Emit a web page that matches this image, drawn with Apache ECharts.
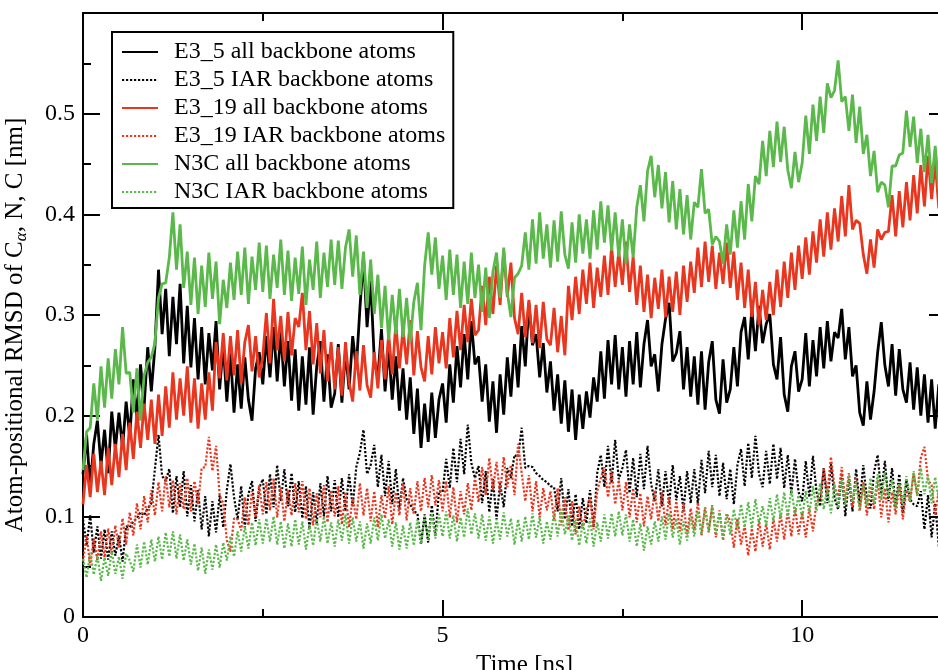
<!DOCTYPE html>
<html>
<head>
<meta charset="utf-8">
<script src="https://cdn.jsdelivr.net/npm/echarts@6/dist/echarts.min.js"></script>
<style>
  html, body { margin: 0; padding: 0; background: #fff; }
  #chart { width: 938px; height: 670px; }
</style>
</head>
<body>
<div id="chart"></div>
<script>
// sampling step of the traces (ns)
const DT = 0.05;

const seriesNames = [
  'E3_5 all backbone atoms',
  'E3_5 IAR backbone atoms',
  'E3_19 all backbone atoms',
  'E3_19 IAR backbone atoms',
  'N3C all backbone atoms',
  'N3C IAR backbone atoms'
];

// E3_5 all backbone atoms
const e35All = [
  0.142, 0.181, 0.128, 0.172, 0.195, 0.151, 0.186, 0.143, 0.204, 0.167,
  0.203, 0.168, 0.214, 0.179, 0.236, 0.198, 0.251, 0.209, 0.268, 0.224,
  0.268, 0.345, 0.281, 0.326, 0.259, 0.318, 0.271, 0.331, 0.252, 0.309,
  0.248, 0.297, 0.236, 0.288, 0.231, 0.282, 0.245, 0.294, 0.226, 0.271,
  0.214, 0.262, 0.203, 0.251, 0.207, 0.258, 0.216, 0.195, 0.247, 0.263,
  0.231, 0.279, 0.238, 0.288, 0.234, 0.283, 0.229, 0.274, 0.215, 0.266,
  0.205, 0.259, 0.211, 0.268, 0.201, 0.249, 0.274, 0.214, 0.261, 0.208,
  0.222, 0.271, 0.213, 0.264, 0.226, 0.279, 0.247, 0.306, 0.358, 0.288,
  0.334, 0.256, 0.238, 0.286, 0.224, 0.268, 0.216, 0.259, 0.205, 0.247,
  0.196, 0.238, 0.182, 0.227, 0.168, 0.212, 0.174, 0.223, 0.178, 0.216,
  0.232, 0.193, 0.251, 0.213, 0.269, 0.228, 0.281, 0.236, 0.294, 0.251,
  0.259, 0.214, 0.251, 0.194, 0.234, 0.183, 0.241, 0.201, 0.258, 0.219,
  0.271, 0.228, 0.289, 0.249, 0.312, 0.27, 0.281, 0.238, 0.272, 0.223,
  0.254, 0.205, 0.241, 0.192, 0.235, 0.184, 0.226, 0.176, 0.221, 0.187,
  0.224, 0.198, 0.238, 0.214, 0.264, 0.217, 0.275, 0.231, 0.28, 0.226,
  0.268, 0.219, 0.274, 0.231, 0.283, 0.228, 0.271, 0.295, 0.249, 0.261,
  0.224, 0.271, 0.296, 0.312, 0.254, 0.262, 0.284, 0.226, 0.268, 0.219,
  0.259, 0.211, 0.264, 0.206, 0.253, 0.274, 0.216, 0.202, 0.256, 0.213,
  0.226, 0.268, 0.229, 0.283, 0.298, 0.256, 0.306, 0.264, 0.309, 0.272,
  0.291, 0.301, 0.251, 0.236, 0.278, 0.221, 0.204, 0.249, 0.264, 0.224,
  0.236, 0.282, 0.229, 0.275, 0.239, 0.288, 0.247, 0.294, 0.254, 0.283,
  0.277, 0.306, 0.256, 0.288, 0.239, 0.25, 0.203, 0.19, 0.234, 0.196,
  0.224, 0.263, 0.293, 0.25, 0.229, 0.271, 0.22, 0.266, 0.226, 0.213,
  0.253, 0.206, 0.248, 0.2, 0.241, 0.193, 0.236, 0.187, 0.231, 0.196,
  0.214
];

// E3_5 IAR backbone atoms
const e35Iar = [
  0.097, 0.071, 0.101, 0.064, 0.09, 0.058, 0.087, 0.057, 0.085, 0.061,
  0.081, 0.055, 0.09, 0.089, 0.095, 0.098, 0.104, 0.101, 0.108, 0.113,
  0.147, 0.181, 0.14, 0.135, 0.147, 0.103, 0.14, 0.109, 0.145, 0.1,
  0.131, 0.095, 0.126, 0.087, 0.12, 0.08, 0.115, 0.084, 0.121, 0.089,
  0.126, 0.152, 0.119, 0.097, 0.13, 0.089, 0.122, 0.135, 0.095, 0.128,
  0.137, 0.102, 0.142, 0.109, 0.151, 0.115, 0.147, 0.11, 0.143, 0.104,
  0.135, 0.098, 0.13, 0.087, 0.124, 0.093, 0.133, 0.1, 0.14, 0.105,
  0.136, 0.099, 0.138, 0.105, 0.142, 0.11, 0.149, 0.163, 0.186, 0.142,
  0.151, 0.171, 0.129, 0.161, 0.12, 0.155, 0.112, 0.147, 0.107, 0.138,
  0.117, 0.112, 0.105, 0.103, 0.072, 0.102, 0.074, 0.111, 0.08, 0.125,
  0.124, 0.157, 0.128, 0.168, 0.134, 0.177, 0.142, 0.191, 0.153, 0.138,
  0.15, 0.113, 0.145, 0.104, 0.137, 0.097, 0.133, 0.109, 0.148, 0.138,
  0.161, 0.159, 0.188, 0.148, 0.15, 0.149, 0.143, 0.14, 0.136, 0.134,
  0.13, 0.129, 0.105, 0.138, 0.097, 0.127, 0.09, 0.122, 0.087, 0.118,
  0.093, 0.126, 0.089, 0.143, 0.161, 0.129, 0.17, 0.133, 0.176, 0.137,
  0.148, 0.166, 0.123, 0.158, 0.119, 0.162, 0.127, 0.17, 0.132, 0.115,
  0.147, 0.11, 0.145, 0.112, 0.151, 0.116, 0.14, 0.105, 0.145, 0.113,
  0.147, 0.112, 0.156, 0.123, 0.165, 0.129, 0.161, 0.12, 0.153, 0.117,
  0.147, 0.112, 0.151, 0.167, 0.13, 0.173, 0.138, 0.18, 0.142, 0.129,
  0.165, 0.132, 0.172, 0.137, 0.168, 0.128, 0.161, 0.122, 0.157, 0.124,
  0.115, 0.155, 0.119, 0.16, 0.124, 0.11, 0.148, 0.113, 0.152, 0.118,
  0.107, 0.143, 0.1, 0.137, 0.105, 0.147, 0.112, 0.151, 0.117, 0.108,
  0.144, 0.161, 0.122, 0.155, 0.115, 0.148, 0.109, 0.142, 0.103, 0.136,
  0.117, 0.112, 0.11, 0.125, 0.087, 0.121, 0.079, 0.113, 0.07, 0.101,
  0.062
];

// E3_19 all backbone atoms
const e319All = [
  0.112, 0.151, 0.119, 0.162, 0.124, 0.155, 0.121, 0.168, 0.131, 0.172,
  0.139, 0.182, 0.146, 0.193, 0.157, 0.204, 0.168, 0.212, 0.176, 0.216,
  0.172, 0.221, 0.18, 0.229, 0.188, 0.243, 0.196, 0.237, 0.2, 0.249,
  0.193, 0.237, 0.187, 0.232, 0.196, 0.243, 0.205, 0.273, 0.237, 0.282,
  0.235, 0.279, 0.24, 0.285, 0.232, 0.273, 0.29, 0.244, 0.279, 0.238,
  0.259, 0.302, 0.252, 0.316, 0.265, 0.299, 0.254, 0.303, 0.26, 0.297,
  0.288, 0.322, 0.265, 0.304, 0.251, 0.292, 0.242, 0.285, 0.234, 0.273,
  0.226, 0.268, 0.22, 0.273, 0.233, 0.214, 0.264, 0.225, 0.27, 0.23,
  0.218, 0.263, 0.227, 0.275, 0.236, 0.281, 0.241, 0.292, 0.247, 0.287,
  0.251, 0.295, 0.24, 0.284, 0.248, 0.234, 0.279, 0.241, 0.288, 0.252,
  0.283, 0.247, 0.297, 0.258, 0.304, 0.265, 0.31, 0.273, 0.316, 0.28,
  0.285, 0.329, 0.29, 0.338, 0.301, 0.349, 0.31, 0.363, 0.318, 0.352,
  0.297, 0.281, 0.322, 0.278, 0.315, 0.272, 0.31, 0.267, 0.313, 0.276,
  0.27, 0.307, 0.263, 0.299, 0.26, 0.329, 0.295, 0.338, 0.301, 0.345,
  0.311, 0.352, 0.307, 0.347, 0.318, 0.359, 0.32, 0.368, 0.328, 0.363,
  0.33, 0.373, 0.323, 0.358, 0.31, 0.349, 0.303, 0.34, 0.297, 0.337,
  0.306, 0.345, 0.298, 0.338, 0.303, 0.343, 0.3, 0.349, 0.313, 0.353,
  0.322, 0.367, 0.328, 0.373, 0.333, 0.369, 0.326, 0.362, 0.331, 0.372,
  0.327, 0.363, 0.315, 0.352, 0.307, 0.345, 0.298, 0.333, 0.29, 0.325,
  0.295, 0.333, 0.3, 0.345, 0.308, 0.353, 0.317, 0.362, 0.325, 0.369,
  0.336, 0.377, 0.34, 0.383, 0.352, 0.395, 0.358, 0.402, 0.365, 0.406,
  0.373, 0.418, 0.378, 0.429, 0.385, 0.394, 0.391, 0.36, 0.341, 0.375,
  0.347, 0.385, 0.375, 0.382, 0.383, 0.419, 0.378, 0.423, 0.387, 0.432,
  0.394, 0.439, 0.401, 0.449, 0.408, 0.458, 0.415, 0.452, 0.406, 0.447,
  0.428
];

// E3_19 IAR backbone atoms
const e319Iar = [
  0.055, 0.081, 0.051, 0.078, 0.056, 0.085, 0.059, 0.088, 0.062, 0.091,
  0.069, 0.098, 0.072, 0.104, 0.081, 0.113, 0.087, 0.12, 0.094, 0.126,
  0.101, 0.134, 0.105, 0.14, 0.109, 0.136, 0.102, 0.133, 0.107, 0.138,
  0.105, 0.135, 0.112, 0.148, 0.149, 0.179, 0.145, 0.17, 0.121, 0.113,
  0.076, 0.065, 0.098, 0.097, 0.086, 0.119, 0.091, 0.125, 0.099, 0.131,
  0.102, 0.134, 0.106, 0.138, 0.099, 0.129, 0.095, 0.126, 0.101, 0.133,
  0.104, 0.135, 0.097, 0.128, 0.091, 0.123, 0.099, 0.131, 0.094, 0.126,
  0.1, 0.13, 0.092, 0.124, 0.089, 0.119, 0.097, 0.133, 0.101, 0.128,
  0.095, 0.125, 0.089, 0.121, 0.098, 0.13, 0.092, 0.124, 0.101, 0.133,
  0.096, 0.128, 0.102, 0.135, 0.105, 0.138, 0.109, 0.141, 0.111, 0.136,
  0.105, 0.135, 0.099, 0.129, 0.094, 0.125, 0.102, 0.133, 0.106, 0.139,
  0.114, 0.149, 0.121, 0.158, 0.126, 0.154, 0.122, 0.159, 0.129, 0.151,
  0.121, 0.172, 0.143, 0.115, 0.141, 0.105, 0.135, 0.099, 0.128, 0.106,
  0.125, 0.097, 0.128, 0.091, 0.119, 0.086, 0.115, 0.082, 0.11, 0.088,
  0.106, 0.119, 0.087, 0.125, 0.138, 0.149, 0.119, 0.145, 0.112, 0.136,
  0.106, 0.134, 0.099, 0.128, 0.094, 0.123, 0.09, 0.12, 0.097, 0.126,
  0.095, 0.124, 0.091, 0.119, 0.087, 0.115, 0.085, 0.113, 0.082, 0.108,
  0.086, 0.114, 0.081, 0.109, 0.084, 0.111, 0.079, 0.106, 0.076, 0.103,
  0.095, 0.069, 0.098, 0.072, 0.091, 0.061, 0.088, 0.065, 0.096, 0.07,
  0.093, 0.067, 0.098, 0.075, 0.103, 0.077, 0.106, 0.08, 0.109, 0.082,
  0.104, 0.079, 0.108, 0.085, 0.115, 0.117, 0.148, 0.122, 0.159, 0.129,
  0.12, 0.149, 0.114, 0.143, 0.109, 0.138, 0.105, 0.134, 0.101, 0.13,
  0.107, 0.136, 0.099, 0.128, 0.094, 0.124, 0.102, 0.131, 0.097, 0.126,
  0.114, 0.143, 0.121, 0.158, 0.169, 0.136, 0.131, 0.101, 0.126, 0.095,
  0.111
];

// N3C all backbone atoms
const n3cAll = [
  0.146, 0.184, 0.188, 0.232, 0.196, 0.249, 0.208, 0.257, 0.217, 0.266,
  0.231, 0.288, 0.242, 0.243, 0.203, 0.247, 0.195, 0.24, 0.253, 0.258,
  0.272, 0.317, 0.331, 0.332, 0.357, 0.402, 0.345, 0.39, 0.327, 0.363,
  0.31, 0.357, 0.301, 0.349, 0.308, 0.362, 0.316, 0.353, 0.291, 0.335,
  0.307, 0.352, 0.315, 0.363, 0.32, 0.367, 0.311, 0.358, 0.325, 0.372,
  0.323, 0.369, 0.316, 0.36, 0.327, 0.375, 0.32, 0.364, 0.314, 0.357,
  0.321, 0.368, 0.31, 0.355, 0.325, 0.373, 0.317, 0.362, 0.328, 0.375,
  0.33, 0.374, 0.326, 0.367, 0.385, 0.338, 0.379, 0.32, 0.363, 0.307,
  0.355, 0.301, 0.34, 0.287, 0.329, 0.275, 0.32, 0.281, 0.326, 0.278,
  0.317, 0.273, 0.313, 0.332, 0.285, 0.349, 0.382, 0.34, 0.377, 0.326,
  0.359, 0.315, 0.365, 0.32, 0.36, 0.307, 0.353, 0.311, 0.362, 0.317,
  0.35, 0.303, 0.347, 0.297, 0.343, 0.362, 0.317, 0.367, 0.322, 0.298,
  0.337, 0.341, 0.349, 0.382, 0.345, 0.395, 0.351, 0.402, 0.356, 0.39,
  0.347, 0.394, 0.353, 0.403, 0.36, 0.346, 0.392, 0.352, 0.4, 0.361,
  0.395, 0.356, 0.404, 0.365, 0.413, 0.372, 0.409, 0.364, 0.402, 0.358,
  0.395, 0.351, 0.39, 0.357, 0.407, 0.429, 0.393, 0.443, 0.458, 0.417,
  0.449, 0.406, 0.442, 0.392, 0.433, 0.385, 0.425, 0.38, 0.419, 0.375,
  0.412, 0.407, 0.445, 0.401, 0.405, 0.37, 0.378, 0.373, 0.351, 0.39,
  0.36, 0.404, 0.367, 0.413, 0.375, 0.43, 0.393, 0.438, 0.43, 0.473,
  0.438, 0.483, 0.447, 0.492, 0.452, 0.487, 0.444, 0.426, 0.462, 0.432,
  0.451, 0.498, 0.46, 0.509, 0.473, 0.517, 0.481, 0.53, 0.516, 0.523,
  0.553, 0.512, 0.517, 0.483, 0.519, 0.471, 0.507, 0.46, 0.479, 0.438,
  0.463, 0.422, 0.432, 0.429, 0.407, 0.448, 0.448, 0.459, 0.461, 0.503,
  0.467, 0.497, 0.451, 0.485, 0.442, 0.479, 0.431, 0.468, 0.425, 0.463,
  0.447
];

// N3C IAR backbone atoms
const n3cIar = [
  0.058, 0.039, 0.064, 0.042, 0.061, 0.036, 0.059, 0.041, 0.065, 0.043,
  0.06, 0.038, 0.063, 0.056, 0.045, 0.072, 0.049, 0.075, 0.052, 0.077,
  0.055, 0.08, 0.057, 0.084, 0.06, 0.085, 0.058, 0.082, 0.056, 0.077,
  0.052, 0.073, 0.046, 0.069, 0.043, 0.067, 0.047, 0.072, 0.049, 0.074,
  0.056, 0.08, 0.06, 0.085, 0.065, 0.09, 0.068, 0.094, 0.071, 0.097,
  0.073, 0.098, 0.075, 0.1, 0.072, 0.095, 0.068, 0.093, 0.07, 0.097,
  0.072, 0.095, 0.067, 0.092, 0.071, 0.098, 0.075, 0.1, 0.073, 0.094,
  0.07, 0.097, 0.076, 0.102, 0.073, 0.099, 0.075, 0.095, 0.068, 0.093,
  0.073, 0.099, 0.076, 0.102, 0.078, 0.097, 0.07, 0.094, 0.067, 0.091,
  0.068, 0.094, 0.071, 0.097, 0.073, 0.1, 0.077, 0.103, 0.078, 0.102,
  0.08, 0.105, 0.078, 0.101, 0.075, 0.099, 0.079, 0.108, 0.082, 0.103,
  0.078, 0.102, 0.076, 0.1, 0.073, 0.097, 0.077, 0.104, 0.08, 0.098,
  0.072, 0.097, 0.075, 0.1, 0.077, 0.103, 0.079, 0.099, 0.073, 0.095,
  0.077, 0.104, 0.08, 0.107, 0.082, 0.101, 0.076, 0.097, 0.071, 0.094,
  0.073, 0.098, 0.07, 0.094, 0.075, 0.102, 0.078, 0.103, 0.08, 0.105,
  0.081, 0.102, 0.075, 0.097, 0.07, 0.093, 0.066, 0.09, 0.072, 0.095,
  0.075, 0.1, 0.077, 0.103, 0.079, 0.098, 0.072, 0.095, 0.076, 0.1,
  0.08, 0.105, 0.082, 0.108, 0.085, 0.11, 0.083, 0.104, 0.078, 0.102,
  0.082, 0.107, 0.086, 0.112, 0.089, 0.114, 0.088, 0.117, 0.093, 0.11,
  0.091, 0.118, 0.095, 0.122, 0.098, 0.124, 0.1, 0.127, 0.102, 0.121,
  0.098, 0.125, 0.102, 0.13, 0.105, 0.133, 0.107, 0.128, 0.103, 0.132,
  0.108, 0.137, 0.112, 0.141, 0.115, 0.134, 0.106, 0.132, 0.11, 0.138,
  0.113, 0.142, 0.116, 0.144, 0.119, 0.137, 0.108, 0.135, 0.112, 0.14,
  0.115, 0.145, 0.12, 0.148, 0.122, 0.141, 0.113, 0.139, 0.116, 0.143,
  0.126
];

const xTickLabels = [0, 5, 10];
const yTickLabels = [0, 0.1, 0.2, 0.3, 0.4, 0.5];

const BLACK = '#000000';
const RED = '#e8361f';
const GREEN = '#5ab94a';
const FONT = 'Liberation Serif';

function toPairs(vals) {
  return vals.map(function (v, i) { return [Math.round(i * DT * 100) / 100, v]; });
}

const myChart = echarts.init(document.getElementById('chart'), null, { renderer: 'canvas' });

// every axis sits on the frame, not on the other axis's zero
const frameLine = { show: true, onZero: false, lineStyle: { color: BLACK, width: 2 } };
const noLine = { show: false, onZero: false };
const majorTick = { inside: true, length: 17, lineStyle: { color: BLACK, width: 2 } };
const minorTickX = { inside: true, length: 8, lineStyle: { color: BLACK, width: 2 } };

function lineSeries(name, vals, color, dotted) {
  return {
    name: name,
    type: 'line',
    xAxisIndex: 0,
    yAxisIndex: 0,
    symbol: 'none',
    showSymbol: false,
    silent: true,
    lineStyle: dotted
      ? { color: color, width: 2.2, type: [2.2, 1.8] }
      : { color: color, width: 2.8 },
    itemStyle: { color: color },
    data: toPairs(vals)
  };
}

myChart.setOption({
  animation: false,
  backgroundColor: '#fff',
  grid: {
    left: 83,
    top: 13,
    width: 863, // axis runs to 12 ns, just past the right edge of the picture
    height: 604,
    outerBoundsMode: 'none'
  },
  legend: {
    orient: 'vertical',
    left: 112,
    top: 32,
    padding: [8, 8, 4, 9],
    itemGap: 4,
    itemWidth: 36,
    itemHeight: 14,
    itemStyle: { opacity: 0 },
    lineStyle: { width: 2 },
    borderColor: BLACK,
    borderWidth: 2,
    backgroundColor: '#fff',
    selectedMode: false,
    textStyle: {
      fontFamily: FONT,
      fontSize: 24,
      lineHeight: 22,
      color: BLACK,
      padding: [0, 0, 0, 11]
    },
    data: seriesNames
  },
  xAxis: [
    {
      type: 'value', position: 'bottom', min: 0, max: 12, interval: 5,
      name: 'Time [ns]', nameLocation: 'middle', nameGap: 27,
      nameTextStyle: { fontFamily: FONT, fontSize: 25, color: BLACK, padding: [0, 0, 0, 20] },
      axisLine: frameLine,
      axisTick: majorTick,
      axisLabel: {
        fontFamily: FONT, fontSize: 24, color: BLACK, margin: 7,
        formatter: function (v) { return xTickLabels.indexOf(v) >= 0 ? String(v) : ''; }
      },
      splitLine: { show: false }
    },
    {
      type: 'value', position: 'bottom', min: 0, max: 12, interval: 2.5,
      axisLine: noLine, axisTick: minorTickX,
      axisLabel: { show: false }, splitLine: { show: false }
    },
    {
      type: 'value', position: 'top', min: 0, max: 12, interval: 5,
      axisLine: frameLine, axisTick: majorTick,
      axisLabel: { show: false }, splitLine: { show: false }
    },
    {
      type: 'value', position: 'top', min: 0, max: 12, interval: 2.5,
      axisLine: noLine, axisTick: minorTickX,
      axisLabel: { show: false }, splitLine: { show: false }
    }
  ],
  yAxis: [
    {
      type: 'value', position: 'left', min: 0, max: 0.6, interval: 0.1,
      name: '{a|Atom-positional RMSD of C}{s|α}{a|, N, C [nm]}',
      nameLocation: 'middle', nameGap: 53,
      nameTextStyle: {
        fontFamily: FONT, fontSize: 25, color: BLACK, padding: [0, 20, 0, 0],
        rich: {
          a: { fontFamily: FONT, fontSize: 25, lineHeight: 29, color: BLACK },
          s: { fontFamily: FONT, fontSize: 17, lineHeight: 17, fontStyle: 'italic', color: BLACK, verticalAlign: 'bottom' }
        }
      },
      axisLine: frameLine,
      axisTick: majorTick,
      minorTick: { show: true, splitNumber: 2, length: 8, lineStyle: { color: BLACK, width: 2 } },
      axisLabel: {
        fontFamily: FONT, fontSize: 24, color: BLACK, margin: 8,
        formatter: function (v) {
          const r = Math.round(v * 10) / 10;
          return yTickLabels.indexOf(r) >= 0 ? String(r) : '';
        }
      },
      splitLine: { show: false },
      minorSplitLine: { show: false }
    },
    {
      type: 'value', position: 'right', min: 0, max: 0.6, interval: 0.1,
      axisLine: frameLine,
      axisTick: majorTick,
      minorTick: { show: true, splitNumber: 2, length: 8, lineStyle: { color: BLACK, width: 2 } },
      axisLabel: { show: false },
      splitLine: { show: false },
      minorSplitLine: { show: false }
    }
  ],
  series: [
    lineSeries(seriesNames[0], e35All, BLACK, false),
    lineSeries(seriesNames[1], e35Iar, BLACK, true),
    lineSeries(seriesNames[2], e319All, RED, false),
    lineSeries(seriesNames[3], e319Iar, RED, true),
    lineSeries(seriesNames[4], n3cAll, GREEN, false),
    lineSeries(seriesNames[5], n3cIar, GREEN, true)
  ]
});

window.addEventListener('resize', function () {
  myChart.resize();
});
</script>
</body>
</html>
